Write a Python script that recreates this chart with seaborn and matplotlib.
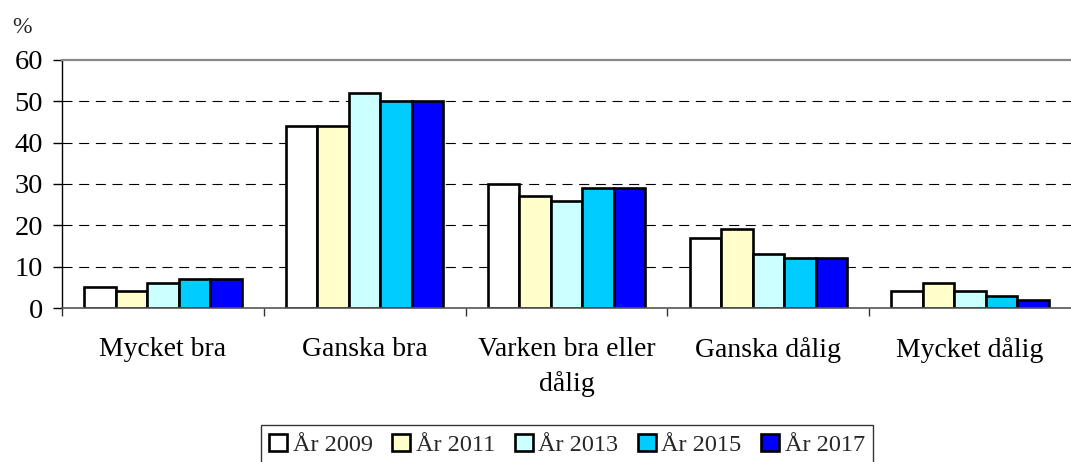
import pandas as pd
import matplotlib
matplotlib.use("Agg")
import matplotlib.pyplot as plt
from matplotlib.patches import Patch
from matplotlib.ticker import FixedLocator
import seaborn as sns

sns.set_style("white")
plt.rcParams["font.family"] = ["Liberation Serif", "DejaVu Serif"]

# data
categories = ["Mycket bra", "Ganska bra", "Varken bra eller\ndålig", "Ganska dålig", "Mycket dålig"]
years = ["År 2009", "År 2011", "År 2013", "År 2015", "År 2017"]
v2009 = [5, 44, 30, 17, 4]
v2011 = [4, 44, 27, 19, 6]
v2013 = [6, 52, 26, 13, 4]
v2015 = [7, 50, 29, 12, 3]
v2017 = [7, 50, 29, 12, 2]
colors = ["#FFFFFF", "#FFFFCC", "#CCFFFF", "#00CCFF", "#0000FF"]

rows = []
for year, vals in zip(years, [v2009, v2011, v2013, v2015, v2017]):
    for cat, v in zip(categories, vals):
        rows.append({"kategori": cat, "år": year, "procent": v})
df = pd.DataFrame(rows)

fig = plt.figure(figsize=(10.71, 4.62), dpi=100)
ax = fig.add_axes([62 / 1071, 1 - 308 / 462, 1 - 62 / 1071, 248 / 462])

sns.barplot(data=df, x="kategori", y="procent", hue="år", order=categories,
            hue_order=years, palette=colors, width=0.78, gap=0,
            edgecolor="black", linewidth=1.9, saturation=1, ax=ax, legend=False)

ax.set_xlim(-0.5, 4.5)
ax.set_ylim(0, 60)
ax.set_yticks(range(0, 61, 10))
ax.set_xlabel("")
ax.set_ylabel("")

# dashed gridlines
for y in range(10, 60, 10):
    ax.axhline(y, color="black", linestyle=(0, (9, 6)), linewidth=0.8, zorder=0)

ax.spines["right"].set_visible(False)
ax.spines["top"].set_color("#888888")
ax.spines["top"].set_linewidth(1.6)
ax.spines["left"].set_color("black")
ax.spines["left"].set_linewidth(1.0)
ax.spines["bottom"].set_color("#555555")
ax.spines["bottom"].set_linewidth(1.2)

ax.tick_params(axis="y", direction="out", length=6.5, width=1, color="black",
               labelsize=20.5, pad=7, left=True, labelcolor="black")
ax.tick_params(axis="x", which="major", length=0, labelsize=20, pad=21, labelcolor="black")
ax.xaxis.set_minor_locator(FixedLocator([-0.5, 0.5, 1.5, 2.5, 3.5]))
ax.tick_params(axis="x", which="minor", direction="out", length=6, width=1,
               color="#333333", bottom=True)
for lab in ax.get_xticklabels():
    lab.set_horizontalalignment("center")
    lab.set_linespacing(1.45)

fig.text(12 / 1071, 1 - 33 / 462, "%", fontsize=17, va="baseline", ha="left")

handles = [Patch(facecolor=c, edgecolor="black", linewidth=1.9) for c in colors]
leg = fig.legend(handles, years, loc="upper center", bbox_to_anchor=(567 / 1071, 1 - 425 / 462),
                 ncol=5, fontsize=17.5, frameon=True, fancybox=False, edgecolor="black",
                 handlelength=0.75, handleheight=0.75, handletextpad=0.22,
                 columnspacing=0.8, borderpad=0.35, borderaxespad=0)
leg.get_frame().set_linewidth(1.0)

fig.savefig("out.png", dpi=100)
